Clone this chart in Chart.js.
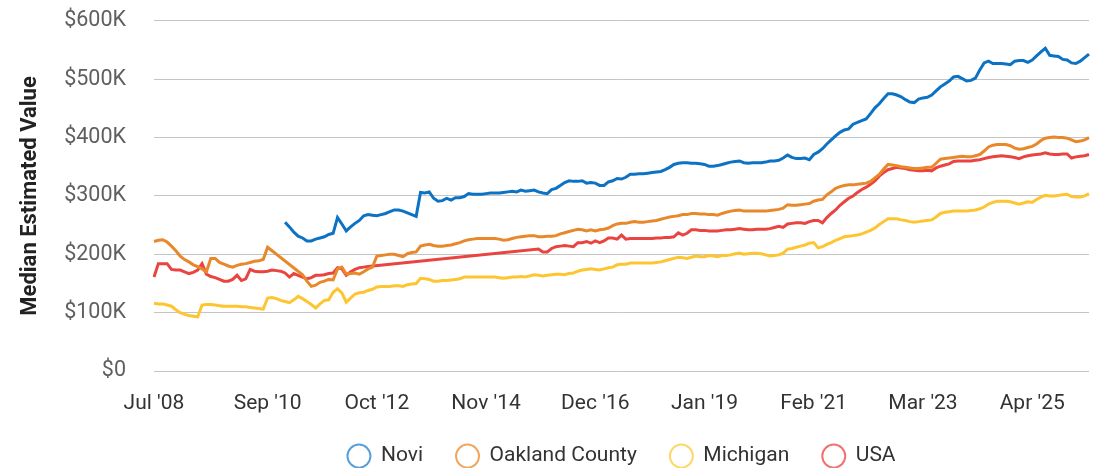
<!DOCTYPE html>
<html>
<head>
<meta charset="utf-8">
<script src="https://cdn.jsdelivr.net/npm/chart.js@4.4.1/dist/chart.umd.min.js"></script>
<style>
  html, body { margin: 0; padding: 0; background: #fff; }
</style>
</head>
<body>
<canvas id="value-chart" width="1097" height="468"></canvas>
<script>
// monthly categories, Jul 2008 onwards (215 months)
const monthNames = ["Jan", "Feb", "Mar", "Apr", "May", "Jun", "Jul", "Aug", "Sep", "Oct", "Nov", "Dec"];
const months = [];
for (let i = 0; i < 215; i++) {
  const m = (6 + i) % 12;
  const y = 2008 + Math.floor((6 + i) / 12);
  months.push(monthNames[m] + " '" + String(y).slice(2));
}

// only these months get a label on the x axis
const tickLabels = ["Jul '08", "Sep '10", "Oct '12", "Nov '14", "Dec '16", "Jan '19", "Feb '21", "Mar '23", "Apr '25"];

// values in $K (null = no value that month)
const novi = [
  null, null, null, null, null, null, null, null, null, null,
  null, null, null, null, null, null, null, null, null, null,
  null, null, null, null, null, null, null, null, null, null,
  255, 247, 238, 231, 228, 223, 223, 226, 228, 230,
  234, 236, 263, 252, 240, 247, 253, 258, 266, 268,
  267, 266, 268, 270, 273, 276, 276, 274, 271, 268,
  265, 306, 305, 307, 296, 291, 292, 296, 293, 297,
  297, 299, 304, 303, 303, 303, 304, 305, 305, 305,
  306, 307, 308, 307, 310, 308, 309, 310, 307, 305,
  304, 311, 313, 318, 323, 326, 325, 325, 326, 322,
  323, 322, 318, 318, 324, 326, 330, 329, 332, 337,
  337, 338, 338, 339, 340, 341, 342, 345, 349, 354,
  356, 357, 357, 356, 356, 355, 354, 351, 351, 352,
  354, 356, 358, 359, 360, 357, 356, 357, 357, 357,
  358, 360, 360, 361, 365, 370, 366, 364, 364, 365,
  362, 371, 375, 381, 389, 396, 403, 409, 413, 415,
  423, 426, 429, 432, 441, 451, 458, 467, 475, 475,
  473, 470, 465, 461, 460, 466, 468, 469, 473, 480,
  487, 492, 497, 504, 505, 501, 497, 498, 502, 516,
  528, 531, 527, 527, 527, 526, 525, 531, 532, 532,
  529, 533, 540, 547, 553, 541, 540, 539, 534, 533,
  528, 527, 531, 537, 543
];

const oakland = [
  222, 224, 225, 221, 214, 206, 197, 191, 187, 182,
  179, 175, 170, 193, 193, 186, 183, 180, 178, 181,
  183, 184, 186, 188, 189, 191, 212, null, null, null,
  null, null, null, null, 165, 154, 145, 147, 152, 154,
  157, 156, 175, 178, 166, 167, 168, 166, 170, 175,
  178, 197, 198, 199, 200, 200, 198, 196, 201, 203,
  204, 214, 216, 217, 215, 214, 214, 215, 216, 218,
  220, 223, 225, 226, 227, 227, 227, 227, 227, 226,
  224, 225, 227, 229, 230, 231, 232, 232, 230, 230,
  231, 231, 232, 235, 237, 239, 241, 243, 242, 240,
  242, 240, 242, 243, 245, 249, 252, 253, 253, 255,
  256, 255, 255, 256, 257, 258, 260, 262, 264, 265,
  266, 268, 268, 270, 270, 269, 269, 268, 268, 267,
  270, 272, 274, 275, 276, 274, 274, 274, 274, 274,
  274, 275, 276, 277, 279, 285, 284, 284, 285, 286,
  287, 291, 293, 294, 302, 307, 313, 316, 318, 319,
  319, 320, 321, 322, 325, 331, 337, 346, 354, 353,
  352, 350, 349, 348, 347, 347, 348, 349, 349, 356,
  363, 364, 365, 366, 367, 368, 367, 367, 369, 371,
  377, 384, 387, 388, 388, 388, 386, 382, 380, 381,
  383, 385, 389, 395, 399, 400, 401, 400, 400, 399,
  396, 393, 394, 396, 400
];

const michigan = [
  116, 115, 115, 113, 111, 105, 100, 97, 95, 94,
  93, 113, 114, 114, 113, 112, 111, 111, 111, 111,
  110, 110, 109, 108, 107, 106, 125, 126, 124, 121,
  119, 117, 122, 128, 124, 119, 114, 108, 115, 121,
  122, 135, 141, 134, 118, 125, 132, 134, 135, 138,
  140, 144, 145, 145, 145, 146, 146, 145, 148, 149,
  150, 159, 158, 157, 154, 154, 155, 155, 156, 157,
  158, 161, 161, 161, 161, 161, 161, 161, 161, 160,
  159, 160, 161, 161, 162, 161, 163, 165, 164, 163,
  164, 165, 166, 166, 165, 167, 168, 171, 173, 174,
  175, 174, 173, 175, 177, 178, 182, 183, 183, 185,
  185, 185, 185, 185, 185, 186, 187, 189, 191, 193,
  195, 194, 193, 195, 197, 196, 196, 198, 197, 196,
  198, 198, 199, 201, 202, 200, 201, 202, 202, 201,
  199, 197, 198, 199, 202, 209, 210, 212, 214, 216,
  219, 220, 211, 213, 217, 220, 224, 227, 230, 231,
  232, 233, 235, 238, 241, 245, 251, 256, 261, 261,
  261, 259, 258, 256, 255, 256, 257, 258, 259, 264,
  270, 272, 273, 274, 274, 274, 274, 275, 276, 278,
  281, 286, 289, 291, 291, 291, 290, 288, 286, 288,
  290, 289, 294, 298, 301, 300, 300, 301, 302, 303,
  299, 298, 298, 300, 304
];

const usa = [
  161, 184, 184, 184, 174, 173, 173, 170, 167, 169,
  173, 184, 166, 162, 160, 157, 154, 154, 157, 164,
  155, 158, 174, 171, 170, 170, 171, 173, 172, 171,
  168, 161, 167, 164, 161, 158, 160, 164, 164, 165,
  167, 168, 177, 175, 164, 170, 174, 177, 178, 179,
  null, null, null, null, null, null, null, null, null, null,
  null, null, null, null, null, null, null, null, null, null,
  null, null, null, null, null, null, null, null, null, null,
  null, null, null, null, null, null, null, null, 209, 204,
  204, 210, 213, 214, 215, 214, 213, 220, 220, 222,
  219, 223, 220, 223, 228, 228, 226, 233, 226, 227,
  227, 227, 227, 227, 227, 228, 228, 229, 229, 230,
  237, 233, 236, 242, 242, 241, 241, 240, 240, 240,
  241, 242, 242, 243, 244, 243, 242, 242, 243, 243,
  243, 244, 246, 248, 246, 252, 253, 254, 254, 253,
  256, 258, 258, 254, 263, 270, 276, 284, 290, 296,
  300, 306, 311, 315, 320, 326, 334, 340, 345, 347,
  349, 348, 347, 345, 344, 343, 343, 344, 343, 348,
  351, 353, 355, 359, 360, 360, 360, 360, 361, 362,
  364, 366, 367, 368, 369, 368, 367, 366, 364, 367,
  369, 370, 371, 372, 374, 372, 371, 371, 372, 372,
  365, 367, 368, 369, 371
];

const seriesNames = ["Novi", "Oakland County", "Michigan", "USA"];
const lineColors = ["#0b72c4", "#e8882a", "#fdc530", "#ea4440"];
const legendColors = ["#5a9fd8", "#efa864", "#fdd868", "#f07272"];

Chart.defaults.font.family = "Roboto, 'Open Sans', sans-serif";

const ctx = document.getElementById('value-chart').getContext('2d');
const valueChart = new Chart(ctx, {
  type: 'line',
  data: {
    labels: months,
    datasets: [novi, oakland, michigan, usa].map((values, i) => ({
      label: seriesNames[i],
      data: values,
      borderColor: lineColors[i],
      backgroundColor: lineColors[i],
      borderWidth: 3,
      pointRadius: 0,
      tension: 0,
      spanGaps: true
    }))
  },
  options: {
    responsive: false,
    animation: false,
    layout: {
      padding: { top: 0, right: 8, left: 0, bottom: 0 }
    },
    scales: {
      x: {
        grid: { display: false, drawTicks: true, tickLength: 24.4 },
        border: { display: false },
        ticks: {
          autoSkip: false,
          maxRotation: 0,
          padding: -4,
          color: '#333',
          font: { size: 21 },
          callback: function (value) {
            const label = this.getLabelForValue(value);
            return tickLabels.includes(label) ? label : null;
          }
        }
      },
      y: {
        min: 0,
        max: 600,
        border: { display: false },
        grid: { color: '#c4c4c4', drawTicks: true, tickLength: 20, tickColor: 'rgba(0,0,0,0)' },
        afterFit: (scale) => { scale.width = 154; },
        ticks: {
          stepSize: 100,
          padding: 8,
          color: '#5f5f5f',
          font: { size: 21.5 },
          callback: (v) => v === 0 ? '$0' : '$' + v + 'K'
        },
        title: {
          display: true,
          text: 'Median Estimated Value',
          color: '#222',
          font: { size: 22, weight: 'bold' },
          padding: { top: 17, bottom: 0 }
        }
      }
    },
    plugins: {
      tooltip: { enabled: false },
      legend: {
        position: 'bottom',
        fullSize: false,
        maxHeight: 55.4,
        labels: {
          usePointStyle: true,
          pointStyle: 'circle',
          pointStyleWidth: 23,
          boxHeight: 16.3,
          padding: 33,
          color: '#333',
          font: { size: 21 },
          generateLabels: (chart) => Chart.defaults.plugins.legend.labels.generateLabels(chart).map((item, i) => ({
            ...item,
            fillStyle: '#fff',
            strokeStyle: legendColors[i],
            lineWidth: 2
          }))
        }
      }
    }
  }
});
</script>
</body>
</html>
